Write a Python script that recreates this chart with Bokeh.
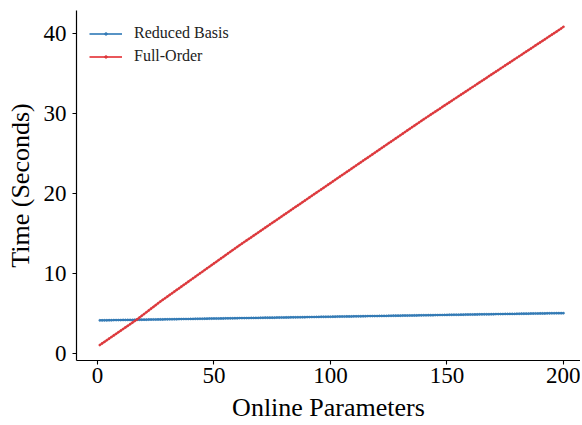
from bokeh.plotting import figure
from bokeh.models import Range1d, FixedTicker
from bokeh.embed import file_html
from bokeh.resources import INLINE

# ---- data -------------------------------------------------------------
online_parameters = list(range(1, 201))

reduced_basis = [
    4.15, 4.15, 4.16, 4.16, 4.17, 4.17, 4.18, 4.18, 4.19, 4.19,
    4.20, 4.20, 4.21, 4.21, 4.21, 4.22, 4.22, 4.23, 4.23, 4.24,
    4.24, 4.25, 4.25, 4.26, 4.26, 4.27, 4.27, 4.27, 4.28, 4.28,
    4.29, 4.29, 4.30, 4.30, 4.31, 4.31, 4.32, 4.32, 4.32, 4.33,
    4.33, 4.34, 4.34, 4.35, 4.35, 4.36, 4.36, 4.37, 4.37, 4.38,
    4.38, 4.38, 4.39, 4.39, 4.40, 4.40, 4.41, 4.41, 4.42, 4.42,
    4.43, 4.43, 4.43, 4.44, 4.44, 4.45, 4.45, 4.46, 4.46, 4.47,
    4.47, 4.48, 4.48, 4.48, 4.49, 4.49, 4.50, 4.50, 4.51, 4.51,
    4.52, 4.52, 4.53, 4.53, 4.53, 4.54, 4.54, 4.55, 4.55, 4.56,
    4.56, 4.57, 4.57, 4.58, 4.58, 4.59, 4.59, 4.59, 4.60, 4.60,
    4.61, 4.61, 4.62, 4.62, 4.63, 4.63, 4.64, 4.64, 4.64, 4.65,
    4.65, 4.66, 4.66, 4.67, 4.67, 4.68, 4.68, 4.69, 4.69, 4.69,
    4.70, 4.70, 4.71, 4.71, 4.72, 4.72, 4.73, 4.73, 4.74, 4.74,
    4.75, 4.75, 4.75, 4.76, 4.76, 4.77, 4.77, 4.78, 4.78, 4.79,
    4.79, 4.80, 4.80, 4.80, 4.81, 4.81, 4.82, 4.82, 4.83, 4.83,
    4.84, 4.84, 4.85, 4.85, 4.85, 4.86, 4.86, 4.87, 4.87, 4.88,
    4.88, 4.89, 4.89, 4.90, 4.90, 4.91, 4.91, 4.91, 4.92, 4.92,
    4.93, 4.93, 4.94, 4.94, 4.95, 4.95, 4.96, 4.96, 4.96, 4.97,
    4.97, 4.98, 4.98, 4.99, 4.99, 5.00, 5.00, 5.01, 5.01, 5.02,
    5.02, 5.02, 5.03, 5.03, 5.04, 5.04, 5.05, 5.05, 5.05, 5.05,
]

full_order = [
    1.07, 1.27, 1.47, 1.67, 1.87, 2.07, 2.27, 2.47, 2.67, 2.87,
    3.07, 3.27, 3.47, 3.67, 3.87, 4.07, 4.27, 4.49, 4.72, 4.94,
    5.16, 5.39, 5.61, 5.83, 6.05, 6.28, 6.50, 6.71, 6.91, 7.12,
    7.33, 7.53, 7.74, 7.95, 8.15, 8.36, 8.57, 8.77, 8.98, 9.19,
    9.40, 9.60, 9.81, 10.02, 10.22, 10.43, 10.64, 10.84, 11.05, 11.26,
    11.46, 11.67, 11.88, 12.08, 12.29, 12.50, 12.71, 12.91, 13.12, 13.33,
    13.53, 13.73, 13.93, 14.13, 14.33, 14.52, 14.72, 14.92, 15.12, 15.32,
    15.52, 15.72, 15.92, 16.12, 16.32, 16.51, 16.71, 16.91, 17.11, 17.31,
    17.51, 17.71, 17.91, 18.11, 18.31, 18.50, 18.70, 18.90, 19.10, 19.30,
    19.50, 19.70, 19.90, 20.10, 20.30, 20.49, 20.69, 20.89, 21.09, 21.29,
    21.49, 21.69, 21.89, 22.09, 22.29, 22.48, 22.68, 22.88, 23.08, 23.28,
    23.48, 23.68, 23.88, 24.08, 24.28, 24.47, 24.67, 24.87, 25.07, 25.27,
    25.47, 25.67, 25.87, 26.07, 26.27, 26.46, 26.66, 26.86, 27.06, 27.26,
    27.46, 27.66, 27.86, 28.06, 28.26, 28.45, 28.65, 28.85, 29.05, 29.25,
    29.44, 29.63, 29.83, 30.02, 30.21, 30.40, 30.59, 30.79, 30.98, 31.17,
    31.36, 31.55, 31.75, 31.94, 32.13, 32.32, 32.51, 32.71, 32.90, 33.09,
    33.28, 33.47, 33.67, 33.86, 34.05, 34.24, 34.43, 34.63, 34.82, 35.01,
    35.20, 35.39, 35.59, 35.78, 35.97, 36.16, 36.35, 36.55, 36.74, 36.93,
    37.12, 37.31, 37.51, 37.70, 37.89, 38.08, 38.27, 38.47, 38.66, 38.85,
    39.04, 39.23, 39.43, 39.62, 39.81, 40.00, 40.19, 40.39, 40.58, 40.80,
]

x_ticks = [0, 50, 100, 150, 200]
y_ticks = [0, 10, 20, 30, 40]

# ---- style ------------------------------------------------------------
FONT = "Liberation Serif"
BLUE = "#3a80bb"
RED = "#e53a3e"

p = figure(
    width=580, height=424,
    output_backend="svg", toolbar_location=None,
    x_range=Range1d(-9.0, 207.3), y_range=Range1d(-0.86, 42.83),
    min_border_left=76, min_border_right=0,
    min_border_top=10, min_border_bottom=59,
)
p.outline_line_color = None
p.grid.visible = False

p.line(online_parameters, reduced_basis, color=BLUE, line_width=2.0,
       line_alpha=0.85, legend_label="Reduced Basis")
p.scatter(online_parameters, reduced_basis, size=2.2, fill_color=BLUE,
          line_color="#1f6aa6", line_width=0.4, legend_label="Reduced Basis")
p.line(online_parameters, full_order, color=RED, line_width=2.0,
       line_alpha=0.85, legend_label="Full-Order")
p.scatter(online_parameters, full_order, size=2.2, fill_color=RED,
          line_color="#c92a2e", line_width=0.4, legend_label="Full-Order")

for ax in (p.xaxis, p.yaxis):
    ax.axis_line_color = "black"
    ax.axis_line_width = 1.2
    ax.major_tick_line_color = "black"
    ax.major_tick_line_width = 1.1
    ax.major_tick_in = 0
    ax.major_tick_out = 4
    ax.minor_tick_line_color = None
    ax.major_label_text_font = FONT
    ax.major_label_text_font_size = "23px"
    ax.major_label_text_color = "black"
    ax.axis_label_text_font = FONT
    ax.axis_label_text_font_size = "26px"
    ax.axis_label_text_font_style = "normal"
    ax.axis_label_text_color = "black"

p.xaxis.ticker = FixedTicker(ticks=x_ticks)
p.yaxis.ticker = FixedTicker(ticks=y_ticks)
p.xaxis.axis_label = "Online Parameters"
p.yaxis.axis_label = "Time (Seconds)"
p.xaxis.major_label_standoff = 3
p.yaxis.major_label_standoff = 6
p.xaxis.axis_label_standoff = 7
p.yaxis.axis_label_standoff = 6

lg = p.legend[0]
lg.location = "top_left"
lg.border_line_alpha = 0
lg.background_fill_alpha = 0
lg.label_text_font = FONT
lg.label_text_font_size = "16px"
lg.label_text_color = "#222222"
lg.glyph_width = 33
lg.glyph_height = 7
lg.label_height = 20
lg.label_standoff = 12
lg.spacing = 3
lg.margin = 6
lg.padding = 7

open("out.html", "w").write(file_html(p, INLINE))
